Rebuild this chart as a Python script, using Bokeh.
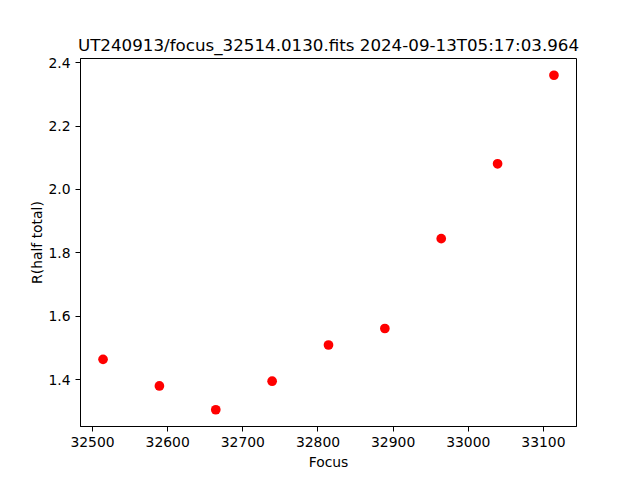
from bokeh.plotting import figure
from bokeh.models import Range1d, FixedTicker
from bokeh.embed import file_html
from bokeh.resources import INLINE

focus = [32514, 32589, 32664, 32739, 32814, 32889, 32964, 33039, 33114]
r_half = [1.465, 1.381, 1.306, 1.396, 1.510, 1.562, 1.845, 2.081, 2.360]

x_ticks = [32500, 32600, 32700, 32800, 32900, 33000, 33100]
x_tick_labels = ["32500", "32600", "32700", "32800", "32900", "33000", "33100"]
y_ticks = [1.4, 1.6, 1.8, 2.0, 2.2, 2.4]
y_tick_labels = ["1.4", "1.6", "1.8", "2.0", "2.2", "2.4"]

title = "UT240913/focus_32514.0130.fits 2024-09-13T05:17:03.964"

def padded(vals, frac=0.05):
    lo, hi = min(vals), max(vals)
    m = (hi - lo) * frac
    return lo - m, hi + m

xr = padded(focus)
yr = padded(r_half)

FONT = "DejaVu Sans"

p = figure(width=632, height=472, output_backend="svg", toolbar_location=None,
           x_range=Range1d(*xr), y_range=Range1d(*yr),
           min_border_left=80, min_border_right=56, min_border_top=58, min_border_bottom=45,
           title=title)

p.title.text_font = FONT
p.title.text_font_size = "16.7px"
p.title.text_font_style = "normal"
p.title.align = "center"
p.title.text_color = "black"
p.title.standoff = 7

p.xgrid.visible = False
p.ygrid.visible = False
p.outline_line_color = "black"
p.outline_line_width = 1
p.outline_line_alpha = 1

p.xaxis.ticker = FixedTicker(ticks=x_ticks)
p.yaxis.ticker = FixedTicker(ticks=y_ticks)
p.xaxis.major_label_overrides = dict(zip(x_ticks, x_tick_labels))
p.yaxis.major_label_overrides = dict(zip(y_ticks, y_tick_labels))
p.xaxis.axis_label = "Focus"
p.yaxis.axis_label = "R(half total)"

for ax in (p.xaxis[0], p.yaxis[0]):
    ax.axis_line_color = "black"
    ax.axis_line_width = 1
    ax.major_tick_line_color = "black"
    ax.major_tick_out = 5
    ax.major_tick_in = 0
    ax.minor_tick_line_color = None
    ax.major_label_text_font = FONT
    ax.major_label_text_font_size = "13.9px"
    ax.major_label_text_color = "black"
    ax.major_label_standoff = 5
    ax.axis_label_text_font = FONT
    ax.axis_label_text_font_size = "13.9px"
    ax.axis_label_text_font_style = "normal"
    ax.axis_label_text_color = "black"
    ax.axis_label_standoff = 4

p.yaxis[0].axis_label_standoff = 0

p.scatter(focus, r_half, size=9.7, fill_color="red", line_color="red", line_width=0)

open("out.html", "w").write(file_html(p, INLINE))
